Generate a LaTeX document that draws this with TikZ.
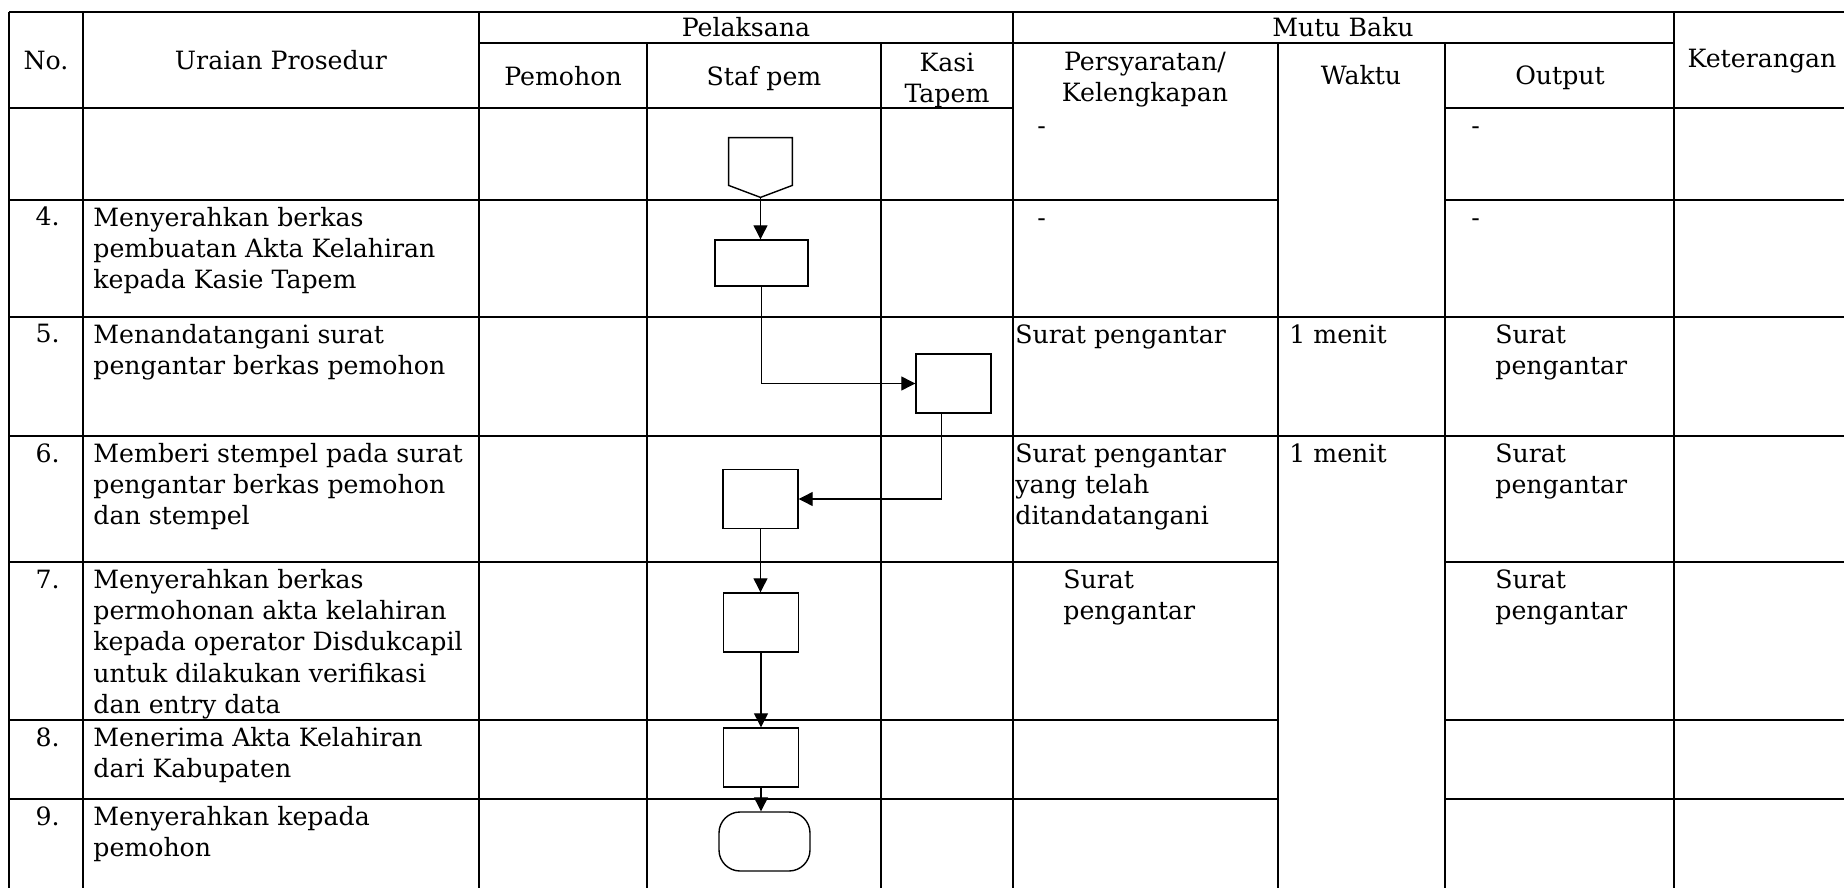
\documentclass[tikz,border=0pt]{standalone}
\usepackage{fontspec}
\setmainfont{DejaVu Serif}
\usetikzlibrary{arrows.meta,calc}
\begin{document}
\begin{tikzpicture}[x=0.5pt,y=-0.5pt,
  hline/.style={line width=1pt},
  vline/.style={line width=0.6pt},
  tfont/.style={font=\fontsize{12.6pt}{15.65pt}\selectfont},
  hdr/.style={tfont, inner sep=0pt, anchor=base},
  hdrtwo/.style={tfont, inner sep=0pt, anchor=north, align=center},
  cell/.style={tfont, inner sep=0pt, anchor=north west, align=left},
  num/.style={tfont, inner sep=0pt, anchor=base east},
  proc/.style={draw, line width=0.7pt, inner sep=0pt, minimum width=37.5pt, minimum height=29.5pt},
  flow/.style={line width=0.6pt, -{Triangle[length=7pt,width=7pt]}},
]
\useasboundingbox (0,0) rectangle (1844,888);
\fill[white] (0,0) rectangle (1844,888);
% horizontal rules
\draw[hline] (9,12) -- (1844,12);
\draw[hline] (479,43) -- (1674,43);
\draw[hline] (9,108) -- (1013,108) (1445,108) -- (1844,108);
\draw[hline] (9,200) -- (1278,200) (1445,200) -- (1844,200);
\draw[hline] (9,317) -- (1844,317);
\draw[hline] (9,436) -- (1844,436);
\foreach \y in {562,720,799} \draw[hline] (9,\y) -- (1278,\y) (1445,\y) -- (1844,\y);
% vertical rules
\foreach \x in {9,83,479,1013,1674} \draw[vline] (\x,12) -- (\x,888);
\foreach \x in {647,881,1278,1445} \draw[vline] (\x,43) -- (\x,888);
\foreach \x in {9,83,479,647,881,1013,1278,1445,1674} \draw[line width=1pt] (\x,799) -- (\x,888);
% header
\node[hdr] (hno) at (46,70) {No.};
\node[hdr] (hur) at (281,70) {Uraian Prosedur};
\node[hdr] (hpel) at (746,37) {Pelaksana};
\node[hdr] (hmutu) at (1343,37) {Mutu Baku};
\node[hdr] (hket) at (1762,68) {Keterangan};
\node[hdr] (hpem) at (563,86) {Pemohon};
\node[hdr] (hstaf) at (764,86) {Staf pem};
\node[hdrtwo] (hkasi) at (947,49) {\strut Kasi\\Tapem};
\node[hdrtwo] (hpers) at (1145,48) {\strut Persyaratan/\\Kelengkapan};
\node[hdr] (hwak) at (1361,85) {Waktu};
\node[hdr] (hout) at (1560,85) {Output};
% numbers
\node[num] (n4) at (60,226) {4.};
\node[num] (n5) at (60,343) {5.};
\node[num] (n6) at (60,462) {6.};
\node[num] (n7) at (60,588) {7.};
\node[num] (n8) at (60,746) {8.};
\node[num] (n9) at (60,825) {9.};
% procedures
\node[cell] (u4) at (93,204) {\strut Menyerahkan berkas\\pembuatan Akta Kelahiran\\kepada Kasie Tapem};
\node[cell] (u5) at (93,321) {\strut Menandatangani surat\\pengantar berkas pemohon};
\node[cell] (u6) at (93,440) {\strut Memberi stempel pada surat\\pengantar berkas pemohon\\dan stempel};
\node[cell] (u7) at (93,566) {\strut Menyerahkan berkas\\permohonan akta kelahiran\\kepada operator Disdukcapil\\untuk dilakukan verifikasi\\dan entry data};
\node[cell] (u8) at (93,724) {\strut Menerima Akta Kelahiran\\dari Kabupaten};
\node[cell] (u9) at (93,803) {\strut Menyerahkan kepada\\pemohon};
% persyaratan
\node[cell] (p1) at (1037,112) {\strut -};
\node[cell] (p4) at (1037,204) {\strut -};
\node[cell] (p5) at (1015,321) {\strut Surat pengantar};
\node[cell] (p6) at (1015,440) {\strut Surat pengantar\\yang telah\\ditandatangani};
\node[cell] (p7) at (1063,566) {\strut Surat\\pengantar};
% waktu
\node[cell] (w5) at (1289,321) {\strut 1 menit};
\node[cell] (w6) at (1289,440) {\strut 1 menit};
% output
\node[cell] (o1) at (1471,112) {\strut -};
\node[cell] (o4) at (1471,204) {\strut -};
\node[cell] (o5) at (1495,321) {\strut Surat\\pengantar};
\node[cell] (o6) at (1495,440) {\strut Surat\\pengantar};
\node[cell] (o7) at (1495,566) {\strut Surat\\pengantar};
% flowchart
\node[inner sep=0pt, minimum width=31.5pt, minimum height=29.5pt] (op) at (760.5,167.5) {};
\draw[line width=0.7pt] (op.north west) -- (op.north east) -- ($(op.south east)+(0,-12)$) -- (op.south) -- ($(op.south west)+(0,-12)$) -- cycle;
\node[proc, minimum width=46.5pt, minimum height=23pt] (b4) at (761.5,263) {};
\node[proc] (b5) at (953.5,383.5) {};
\node[proc] (b6) at (760.5,499) {};
\node[proc] (b7) at (761,622.5) {};
\node[proc] (b8) at (761,757.5) {};
\node[draw, line width=0.7pt, rounded corners=10.5pt, inner sep=0pt, minimum width=45.5pt, minimum height=29.5pt] (t9) at (764.5,841.5) {};
\draw[flow] (op.south) -- (op.south |- b4.north);
\draw[flow] (b4.south) |- (b5.west);
\draw[flow] ([xshift=-6pt]b5.south) |- (b6.east);
\draw[flow] (b6.south) -- (b6.south |- b7.north);
\draw[flow] (b7.south) -- (b7.south |- b8.north);
\draw[flow] (b8.south) -- (b8.south |- t9.north);
\end{tikzpicture}
\end{document}
